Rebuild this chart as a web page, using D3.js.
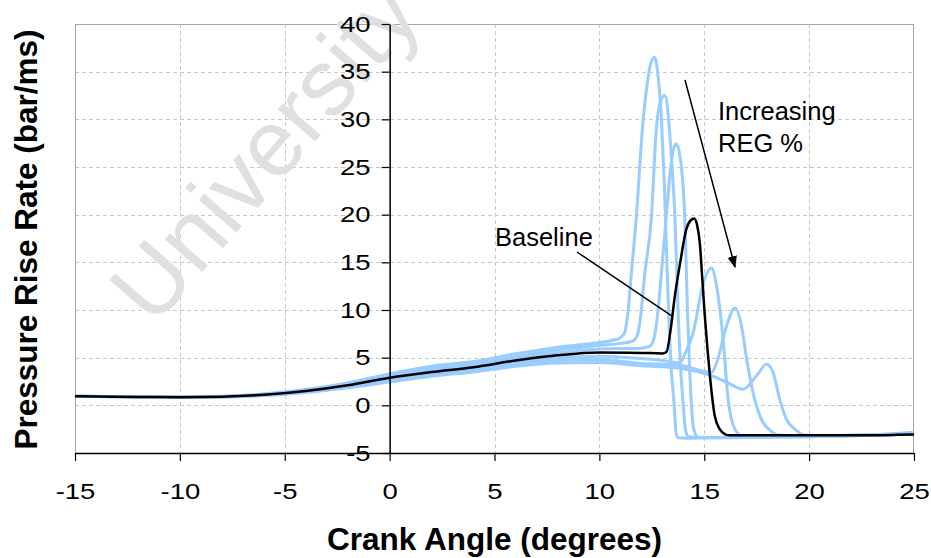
<!DOCTYPE html>
<html>
<head>
<meta charset="utf-8">
<script src="https://cdn.jsdelivr.net/npm/d3@7"></script>
<style>
  body { margin: 0; background: #fff; }
  svg { display: block; }
  text { font-family: Arial, "Liberation Sans", sans-serif; }
</style>
</head>
<body>
<svg id="chart" width="931" height="558"></svg>
<script>
// Axis ticks
const xTicks = [-15, -10, -5, 0, 5, 10, 15, 20, 25];
const yTicks = [-5, 0, 5, 10, 15, 20, 25, 30, 35, 40];

// Pressure rise rate (bar/ms) vs crank angle (deg) — baseline run
const baseline = [
  [-15, 0.95], [-12, 0.88], [-10, 0.85], [-8, 0.9], [-6, 1.1], [-4, 1.5], [-2, 2.1],
  [0, 2.9], [2, 3.5], [4, 4.0], [6, 4.7], [8, 5.25], [10, 5.55], [12, 5.5], [13.0, 5.45],
  [13.2, 5.6], [13.4, 8], [13.6, 11.5], [13.84, 14.8], [14.15, 18.5], [14.35, 19.4],
  [14.52, 19.6], [14.65, 19], [14.79, 17], [14.9, 13.5], [15.03, 9.3], [15.15, 6],
  [15.27, 3.1], [15.5, -1.1], [15.74, -2.5], [16.0, -3.05], [16.2, -3.15], [18, -3.15],
  [20, -3.15], [22, -3.15], [24, -3.1], [25, -3.05]
];

// Runs with increasing REG %
const regA = [
  [-15, 0.95], [-12, 0.9], [-10, 0.88], [-8, 0.95], [-6, 1.2], [-4, 1.65], [-2, 2.35],
  [0, 3.3], [2, 4.1], [4, 4.6], [6, 5.4], [8, 6.1], [10, 6.6], [10.6, 6.8], [11.0, 7.1],
  [11.2, 7.6], [11.35, 9.5], [11.55, 14.5], [11.77, 20], [12.05, 29], [12.3, 34],
  [12.45, 35.9], [12.64, 36.5], [12.8, 34.5], [12.96, 30], [13.1, 23], [13.25, 13],
  [13.42, 4], [13.57, 0], [13.65, -2.8], [13.75, -3.4], [14.2, -3.45], [15, -3.4],
  [17, -3.35], [20, -3.3], [22, -3.2], [24, -3.05], [25, -2.95]
];
const regB = [
  [-15, 0.95], [-12, 0.9], [-10, 0.87], [-8, 0.93], [-6, 1.15], [-4, 1.6], [-2, 2.25],
  [0, 3.15], [2, 3.9], [4, 4.4], [6, 5.1], [8, 5.8], [10, 6.3], [11, 6.5], [11.6, 6.75],
  [11.8, 7.3], [11.95, 9], [12.15, 13.5], [12.49, 20], [12.7, 28.5], [12.9, 31.8],
  [13.12, 32.5], [13.3, 30], [13.45, 25.5], [13.6, 19.8], [13.75, 10], [13.9, 3],
  [14.0, 0], [14.1, -2.5], [14.25, -3.3], [15, -3.4], [17, -3.35], [20, -3.3],
  [22, -3.2], [24, -3.05], [25, -2.9]
];
const regC = [
  [-15, 0.95], [-12, 0.89], [-10, 0.86], [-8, 0.92], [-6, 1.12], [-4, 1.55], [-2, 2.2],
  [0, 3.0], [2, 3.7], [4, 4.2], [6, 4.9], [8, 5.5], [10, 5.9], [12, 6.0], [12.4, 6.2],
  [12.6, 7], [12.8, 10], [13.0, 15], [13.2, 20], [13.4, 25], [13.55, 27], [13.68, 27.4],
  [13.85, 26], [14.07, 19.8], [14.2, 10], [14.3, 4], [14.39, 0], [14.5, -2.5],
  [14.7, -3.35], [16, -3.4], [18, -3.3], [20, -3.25], [22, -3.15], [24, -3.05], [25, -2.95]
];
const regD = [
  [-15, 0.95], [-12, 0.88], [-10, 0.85], [-8, 0.9], [-6, 1.08], [-4, 1.45], [-2, 2.0],
  [0, 2.75], [2, 3.35], [4, 3.85], [6, 4.5], [8, 4.95], [10, 5.15], [12, 4.9], [13, 4.7],
  [13.84, 4.46], [14.1, 5.5], [14.47, 7.6], [14.95, 12.8], [15.35, 14.4], [15.59, 12.5],
  [15.9, 6.9], [16.14, 0.6], [16.46, -2.5], [16.8, -3.2], [18, -3.3], [20, -3.25],
  [22, -3.15], [24, -3.05], [25, -2.9]
];
const regE = [
  [-15, 0.95], [-12, 0.88], [-10, 0.84], [-8, 0.88], [-6, 1.05], [-4, 1.4], [-2, 1.9],
  [0, 2.6], [2, 3.2], [4, 3.7], [6, 4.3], [8, 4.7], [10, 4.8], [12, 4.4], [13.84, 4.2],
  [15.0, 3.55], [15.35, 3.45], [15.59, 4.46], [16.06, 8.3], [16.46, 10.2], [16.78, 8.3],
  [17.0, 5.15], [17.33, 1.3], [17.73, -1.5], [18.13, -2.6], [18.5, -3.1], [20, -3.25],
  [22, -3.15], [24, -3.0], [25, -2.85]
];
const regF = [
  [-15, 0.95], [-12, 0.88], [-10, 0.84], [-8, 0.87], [-6, 1.02], [-4, 1.35], [-2, 1.85],
  [0, 2.45], [2, 3.05], [4, 3.5], [6, 4.1], [8, 4.45], [10, 4.5], [12, 4.15], [13.84, 3.9],
  [15.35, 3.1], [16.0, 2.5], [16.86, 1.7], [17.49, 3.1], [17.97, 4.3], [18.29, 3.4],
  [18.6, 0.6], [18.93, -1.5], [19.32, -2.5], [19.8, -3.15], [21, -3.2], [23, -3.1],
  [25, -2.85]
];
const regSeries = [regA, regB, regC, regD, regE, regF];

const plot = { left: 75, right: 914, top: 24, bottom: 453 };
const tickStretch = 1.25;

const svg = d3.select("#chart");
const x = d3.scaleLinear().domain([-15, 25]).range([plot.left, plot.right]);
const y = d3.scaleLinear().domain([-5, 40]).range([plot.bottom, plot.top]);

// Dashed grid
const grid = svg.append("g").attr("stroke", "#c8c8c8").attr("stroke-width", 1)
  .attr("stroke-dasharray", "4,3");
grid.selectAll("line.v").data(xTicks.slice(1, -1)).join("line")
  .attr("x1", d => Math.round(x(d)) + 0.5).attr("x2", d => Math.round(x(d)) + 0.5)
  .attr("y1", plot.top).attr("y2", plot.bottom);
grid.selectAll("line.h").data(yTicks.slice(1, -1)).join("line")
  .attr("x1", plot.left).attr("x2", plot.right)
  .attr("y1", d => Math.round(y(d)) + 0.5).attr("y2", d => Math.round(y(d)) + 0.5);

// Plot frame
svg.append("rect")
  .attr("x", plot.left + 0.5).attr("y", plot.top + 0.5)
  .attr("width", plot.right - plot.left - 1).attr("height", plot.bottom - plot.top)
  .attr("fill", "none").attr("stroke", "#a6a6a6").attr("stroke-width", 1);

// Watermark
svg.append("text")
  .attr("transform", "translate(270,156) rotate(-49)")
  .attr("text-anchor", "middle").attr("dominant-baseline", "middle")
  .attr("font-size", 94).attr("fill", "#e0e0e0")
  .text("University");

// Curves
const line = d3.line().x(d => x(d[0])).y(d => y(d[1])).curve(d3.curveMonotoneX);
svg.append("g").selectAll("path").data(regSeries).join("path")
  .attr("d", line).attr("fill", "none").attr("stroke", "#99ccff")
  .attr("stroke-width", 3).attr("stroke-linejoin", "round");
svg.append("path").datum(baseline).attr("d", line).attr("fill", "none")
  .attr("stroke", "#000").attr("stroke-width", 2.5).attr("stroke-linejoin", "round");

// Axes
const fmt = d => String(d);
const xAxis = svg.append("g").attr("transform", `translate(0,${plot.bottom})`)
  .call(d3.axisBottom(x).tickValues(xTicks).tickFormat(fmt)
    .tickSize(8).tickSizeOuter(0).tickPadding(22));
const yAxis = svg.append("g").attr("transform", `translate(${x(0)},0)`)
  .call(d3.axisLeft(y).tickValues(yTicks).tickFormat(fmt)
    .tickSize(8).tickSizeOuter(0).tickPadding(11));
[xAxis, yAxis].forEach(a => {
  a.select(".domain").attr("stroke", "#000").attr("stroke-width", 1.5);
  a.selectAll(".tick line").attr("stroke", "#000").attr("stroke-width", 1.2);
  a.selectAll(".tick text").attr("font-size", 22).attr("fill", "#000")
    .attr("font-family", 'Arial, "Liberation Sans", sans-serif')
    .each(function () {
      const t = d3.select(this);
      const tx = +t.attr("x") || 0;
      t.attr("x", tx / tickStretch).attr("transform", `scale(${tickStretch},1)`);
    });
});

// Axis titles
svg.append("text").attr("x", (plot.left + plot.right) / 2).attr("y", 550)
  .attr("text-anchor", "middle").attr("font-size", 31.5).attr("font-weight", "bold")
  .text("Crank Angle (degrees)");
svg.append("text")
  .attr("transform", `translate(37,${(plot.top + plot.bottom) / 2 + 1}) rotate(-90)`)
  .attr("text-anchor", "middle").attr("font-size", 31.5).attr("font-weight", "bold")
  .text("Pressure Rise Rate (bar/ms)");

// Annotations
svg.append("defs").append("marker").attr("id", "arrow")
  .attr("viewBox", "0 0 10 10").attr("refX", 9).attr("refY", 5)
  .attr("markerWidth", 8).attr("markerHeight", 8).attr("orient", "auto")
  .append("path").attr("d", "M0,1 L10,5 L0,9 z").attr("fill", "#000");
svg.append("line").attr("x1", 685).attr("y1", 80).attr("x2", 735).attr("y2", 267)
  .attr("stroke", "#000").attr("stroke-width", 1.5).attr("marker-end", "url(#arrow)");
svg.append("text").attr("x", 718).attr("y", 120).attr("font-size", 25.5).text("Increasing");
svg.append("text").attr("x", 718).attr("y", 152).attr("font-size", 25.5).text("REG %");

svg.append("text").attr("x", 495).attr("y", 246).attr("font-size", 25.5).text("Baseline");
svg.append("line").attr("x1", 577).attr("y1", 252).attr("x2", x(13.5)).attr("y2", y(9.3))
  .attr("stroke", "#000").attr("stroke-width", 1.5);
</script>
</body>
</html>
